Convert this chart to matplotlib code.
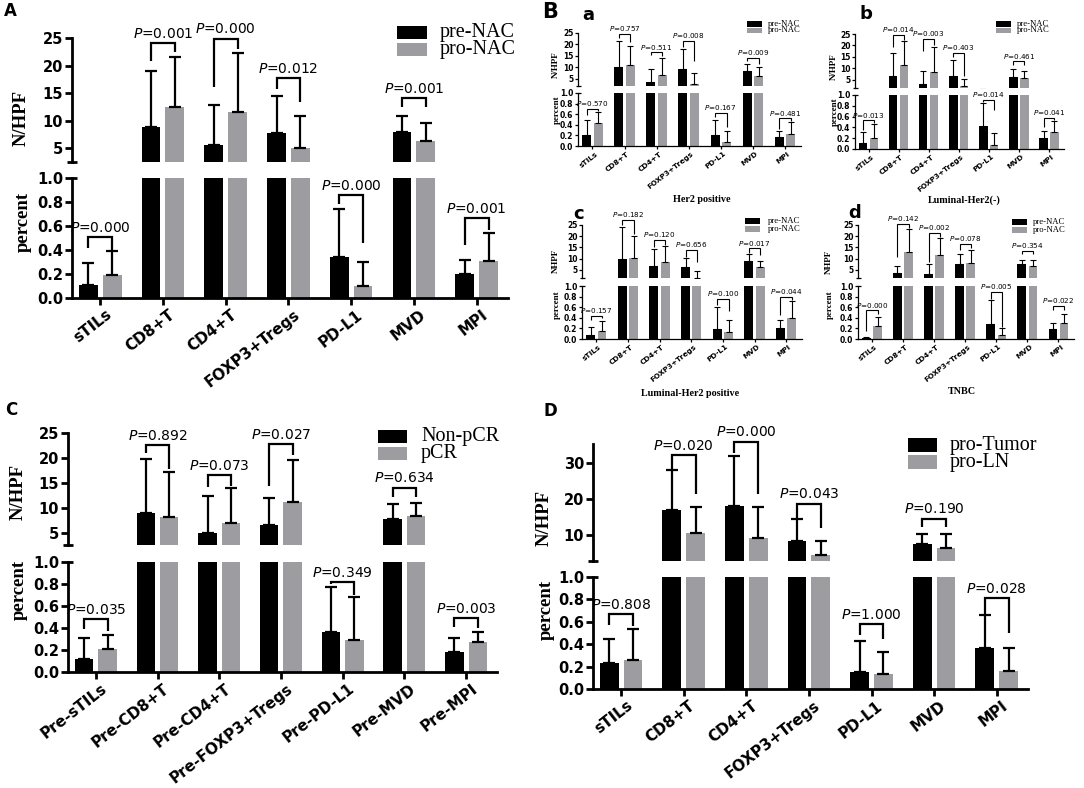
import numpy as np
import matplotlib
matplotlib.use('Agg')
import matplotlib.pyplot as plt
from matplotlib.patches import Rectangle
from matplotlib.transforms import ScaledTranslation

plt.rcParams['font.family'] = ['DejaVu Sans']
plt.rcParams['mathtext.fontset'] = 'dejavusans'

# ------------------------------------------------------------------ data
categories = ['sTILs', 'CD8+T', 'CD4+T', 'FOXP3+Tregs', 'PD-L1', 'MVD', 'MPI']
categories_C = ['Pre-sTILs', 'Pre-CD8+T', 'Pre-CD4+T', 'Pre-FOXP3+Tregs',
                'Pre-PD-L1', 'Pre-MVD', 'Pre-MPI']

# Panel A : pre-NAC vs pro-NAC
A_pre_mean = [0.11, 8.8, 5.6, 7.85, 0.34, 8.0, 0.20]
A_pre_sd = [0.18, 10.3, 7.3, 6.6, 0.40, 2.9, 0.12]
A_pro_mean = [0.19, 12.45, 11.5, 5.0, 0.10, 6.4, 0.31]
A_pro_sd = [0.20, 9.15, 10.8, 5.9, 0.20, 3.1, 0.23]
A_p = ['0.000', '0.001', '0.000', '0.012', '0.000', '0.001', '0.001']

# Panel B a-d : subtypes, pre-NAC vs pro-NAC
Ba_pre_mean = [0.20, 10.0, 3.4, 9.3, 0.20, 8.5, 0.17]
Ba_pre_sd = [0.30, 11.5, 5.9, 8.9, 0.30, 3.0, 0.11]
Ba_pro_mean = [0.43, 10.8, 6.7, 2.7, 0.08, 6.3, 0.235]
Ba_pro_sd = [0.21, 8.6, 7.5, 5.0, 0.21, 3.7, 0.215]
Ba_p = ['0.570', '0.757', '0.511', '0.008', '0.167', '0.009', '0.481']

Bb_pre_mean = [0.12, 6.8, 3.1, 6.8, 0.43, 6.3, 0.20]
Bb_pre_sd = [0.19, 10.1, 5.6, 6.7, 0.42, 3.5, 0.13]
Bb_pro_mean = [0.21, 11.3, 8.6, 2.3, 0.07, 5.7, 0.32]
Bb_pro_sd = [0.25, 10.7, 10.9, 3.3, 0.22, 3.3, 0.19]
Bb_p = ['0.013', '0.014', '0.003', '0.403', '0.014', '0.461', '0.041']

Bc_pre_mean = [0.075, 9.7, 6.8, 6.5, 0.18, 9.1, 0.21]
Bc_pre_sd = [0.145, 14.6, 7.4, 4.0, 0.43, 2.9, 0.15]
Bc_pro_mean = [0.15, 10.5, 8.4, 1.6, 0.125, 6.2, 0.40]
Bc_pro_sd = [0.19, 9.6, 7.3, 3.1, 0.225, 2.9, 0.31]
Bc_p = ['0.157', '0.182', '0.120', '0.656', '0.100', '0.017', '0.044']

Bd_pre_mean = [0.02, 3.5, 3.1, 7.6, 0.29, 7.6, 0.19]
Bd_pre_sd = [0.01, 3.3, 4.6, 4.6, 0.44, 1.9, 0.12]
Bd_pro_mean = [0.24, 12.9, 11.7, 8.2, 0.08, 6.8, 0.30]
Bd_pro_sd = [0.18, 10.2, 7.4, 5.5, 0.13, 2.8, 0.18]
Bd_p = ['0.000', '0.142', '0.002', '0.078', '0.005', '0.354', '0.022']

# Panel C : Non-pCR vs pCR
C_non_mean = [0.12, 9.0, 5.0, 6.6, 0.36, 7.8, 0.18]
C_non_sd = [0.19, 10.8, 7.4, 5.4, 0.41, 3.0, 0.13]
C_pcr_mean = [0.21, 8.3, 7.1, 11.2, 0.29, 8.4, 0.27]
C_pcr_sd = [0.13, 9.0, 6.9, 8.5, 0.39, 2.6, 0.09]
C_p = ['0.035', '0.892', '0.073', '0.027', '0.349', '0.634', '0.003']

# Panel D : pro-Tumor vs pro-LN
D_tum_mean = [0.23, 17.0, 18.0, 8.2, 0.15, 7.3, 0.37]
D_tum_sd = [0.22, 11.0, 13.9, 6.3, 0.28, 3.0, 0.29]
D_ln_mean = [0.26, 10.5, 9.1, 4.4, 0.13, 6.2, 0.16]
D_ln_sd = [0.28, 7.3, 8.7, 3.7, 0.20, 3.9, 0.21]
D_p = ['0.808', '0.020', '0.000', '0.043', '1.000', '0.190', '0.028']

# significance bracket layout (bar height, left leg end, right leg end) in data units
A_brk = [(0.505, 0.42, 0.40), (24.1, 20.9, 22.4), (24.9, 16.1, 23.0), (17.7, 15.7, 13.3),
         (0.86, 0.78, 0.46), (14.1, 12.4, 12.4), (0.665, 0.44, 0.57)]
Ba_brk = [(0.70, 0.58, 0.66), (24.7, 23.0, 21.0), (16.5, 15.4, 14.9), (21.4, 19.0, 12.8),
          (0.62, 0.54, 0.35), (14.2, 12.8, 11.5), (0.52, 0.33, 0.47)]
Bb_brk = [(0.53, 0.36, 0.48), (24.7, 19.5, 22.5), (22.9, 17.5, 20.0), (16.9, 15.0, 6.8),
          (0.91, 0.87, 0.72), (13.1, 11.6, 11.6), (0.58, 0.41, 0.53)]
Bc_brk = [(0.44, 0.36, 0.39), (27.2, 25.0, 21.0), (18.3, 15.4, 16.1), (13.9, 10.9, 8.7),
          (0.75, 0.64, 0.53), (14.6, 12.4, 11.7), (0.80, 0.45, 0.73)]
Bd_brk = [(0.54, 0.16, 0.47), (25.3, 10.9, 23.5), (21.6, 8.7, 19.5), (16.4, 13.9, 14.6),
          (0.89, 0.76, 0.23), (13.4, 12.0, 12.0), (0.62, 0.54, 0.54)]
C_brk = [(0.48, 0.39, 0.37), (22.6, 21.0, 17.8), (16.6, 14.2, 14.4), (22.8, 14.4, 20.6),
         (0.82, 0.80, 0.70), (14.1, 12.2, 12.2), (0.49, 0.41, 0.40)]
D_brk = [(0.67, 0.57, 0.56), (32.3, 28.1, 21.5), (36.1, 32.8, 21.4), (18.7, 14.5, 11.9),
         (0.58, 0.48, 0.45), (14.5, 12.2, 12.2), (0.81, 0.67, 0.50)]

# ------------------------------------------------------------------ style
W, H = 1084, 788
fig = plt.figure(figsize=(W / 100, H / 100), dpi=100)
fig.patch.set_facecolor('white')

BLACK = '#000000'
GRAY = '#9d9da1'
SERIF = 'Liberation Serif'
SANS = 'DejaVu Sans'

BIG = dict(tick=10.5, xtick=11, p=10, ylab=13.5, leg=14.5, lw_sp=2.0, lw_e=1.6, cap=4.5,
           ticklen=5, tickw=2.0, brk_lw=1.6, mark=5, bw=0.30, off=0.19, pad=1.5, poff=1.5,
           xshift=5)
SMALL = dict(tick=5.5, xtick=5.3, p=5.2, ylab=6.5, leg=6.2, lw_sp=0.9, lw_e=0.8, cap=2,
             ticklen=2.5, tickw=0.9, brk_lw=0.8, mark=2.5, bw=0.28, off=0.18, pad=0.8,
             poff=0.6, xshift=2.5)


def rect(x0, y0, x1, y1):
    return [x0 / W, 1 - y1 / H, (x1 - x0) / W, (y1 - y0) / H]


def draw_panel(xr, ytop, ybot, cats, pre_m, pre_sd, pro_m, pro_sd, pvals, brk,
               top_lim, top_ticks, st, ylabs, ylab_pos):
    x0, x1 = xr
    ax_t = fig.add_axes(rect(x0, ytop[0], x1, ytop[1]))
    ax_b = fig.add_axes(rect(x0, ybot[0], x1, ybot[1]))
    n = len(cats)
    xs = np.arange(n)
    zeros = np.zeros(n)
    for ax in (ax_t, ax_b):
        ax.set_facecolor('none')
        ax.bar(xs - st['off'], pre_m, st['bw'], color=BLACK, linewidth=0, zorder=2)
        ax.bar(xs + st['off'], pro_m, st['bw'], color=GRAY, linewidth=0, zorder=2)
        ax.errorbar(xs - st['off'], pre_m, yerr=[zeros, pre_sd], fmt='none', ecolor=BLACK,
                    elinewidth=st['lw_e'], capsize=st['cap'], capthick=st['lw_e'], zorder=3)
        ax.errorbar(xs + st['off'], pro_m, yerr=[zeros, pro_sd], fmt='none', ecolor=BLACK,
                    elinewidth=st['lw_e'], capsize=st['cap'], capthick=st['lw_e'], zorder=3)
        ax.set_xlim(-0.45, n - 0.5)
        ax.spines['top'].set_visible(False)
        ax.spines['right'].set_visible(False)
        ax.spines['left'].set_linewidth(st['lw_sp'])
        ax.spines['bottom'].set_linewidth(st['lw_sp'])
        ax.tick_params(axis='both', direction='out', length=st['ticklen'], width=st['tickw'],
                       pad=st['pad'])
    ax_t.spines['bottom'].set_visible(False)
    ax_t.tick_params(axis='x', bottom=False, labelbottom=False)
    ax_t.set_ylim(*top_lim)
    ax_t.set_yticks(top_ticks)
    ax_t.set_yticklabels([str(t) for t in top_ticks], fontweight='bold', fontsize=st['tick'],
                         family=SANS)
    bt = [0.0, 0.2, 0.4, 0.6, 0.8, 1.0]
    ax_b.set_ylim(0, 1.0)
    ax_b.set_yticks(bt)
    ax_b.set_yticklabels(['%.1f' % t for t in bt], fontweight='bold', fontsize=st['tick'],
                         family=SANS)
    ax_b.set_xticks(xs)
    ax_b.set_xticklabels(cats, rotation=38, ha='right', va='top', rotation_mode='anchor',
                         fontweight='bold', fontsize=st['xtick'], family=SANS)
    shift = ScaledTranslation(st['xshift'] / 100, 0, fig.dpi_scale_trans)
    for lab in ax_b.get_xticklabels():
        lab.set_transform(lab.get_transform() + shift)
    # axis break marks
    d = st['mark'] / (x1 - x0)
    ax_t.plot([-d, d], [0, 0], transform=ax_t.transAxes, color=BLACK, lw=st['tickw'],
              clip_on=False, solid_capstyle='butt')
    ax_b.plot([0, d], [1, 1], transform=ax_b.transAxes, color=BLACK, lw=st['tickw'],
              clip_on=False, solid_capstyle='butt')
    # significance brackets
    for i in range(n):
        yb, yl, yr = brk[i]
        in_bottom = max(pre_m[i] + pre_sd[i], pro_m[i] + pro_sd[i]) <= 1.0
        ax = ax_b if in_bottom else ax_t
        xl, xrr = i - st['off'], i + st['off']
        ax.plot([xl, xl, xrr, xrr], [yl, yb, yb, yr], color=BLACK, lw=st['brk_lw'],
                clip_on=False, solid_joinstyle='miter', solid_capstyle='butt', zorder=4)
        ax.annotate('$P$=' + pvals[i], xy=(i, yb), xytext=(0, st['poff']),
                    textcoords='offset points', ha='center', va='bottom',
                    fontsize=st['p'], family=SANS, annotation_clip=False)
    # y labels
    (tx, ty), (bx, by) = ylab_pos
    fig.text(tx / W, 1 - ty / H, ylabs[0], rotation=90, ha='center', va='center',
             family=SERIF, fontweight='bold', fontsize=st['ylab'])
    fig.text(bx / W, 1 - by / H, ylabs[1], rotation=90, ha='center', va='center',
             family=SERIF, fontweight='bold', fontsize=st['ylab'])
    return ax_t, ax_b


def legend(x, y0, pw, ph, pitch, tx, labels, size):
    for k, (lab, col) in enumerate(zip(labels, [BLACK, GRAY])):
        yy = y0 + k * pitch
        fig.add_artist(Rectangle((x / W, 1 - (yy + ph) / H), pw / W, ph / H,
                                 transform=fig.transFigure, facecolor=col, edgecolor='none'))
        fig.text(tx / W, 1 - (yy + ph / 2) / H, lab, ha='left', va='center',
                 family=SERIF, fontsize=size)


def letter(x, y, s, size):
    fig.text(x / W, 1 - y / H, s, ha='center', va='center', family=SANS,
             fontweight='bold', fontsize=size)


big_ticks = [5, 10, 15, 20, 25]

# ---------------- Panel A
draw_panel((72, 508), (38, 162), (178, 298), categories, A_pre_mean, A_pre_sd,
           A_pro_mean, A_pro_sd, A_p, A_brk, (2.5, 25), big_ticks, BIG,
           ('N/HPF', 'percent'), ((21, 118), (23, 222)))
legend(397, 26, 30, 13, 17, 440, ['pre-NAC', 'pro-NAC'], BIG['leg'])
letter(10, 11, 'A', 12)

# ---------------- Panel C
draw_panel((68, 497), (433, 545), (562, 672), categories_C, C_non_mean, C_non_sd,
           C_pcr_mean, C_pcr_sd, C_p, C_brk, (2.6, 25), big_ticks, BIG,
           ('N/HPF', 'percent'), ((18, 492), (19, 590)))
legend(378, 430, 29, 13, 17, 421, ['Non-pCR', 'pCR'], BIG['leg'])
letter(11, 410, 'C', 12)

# ---------------- Panel D
draw_panel((593, 1028), (444, 561), (577, 689), categories, D_tum_mean, D_tum_sd,
           D_ln_mean, D_ln_sd, D_p, D_brk, (2.6, 35.4), [10, 20, 30], BIG,
           ('N/HPF', 'percent'), ((544, 518), (546, 610)))
legend(908, 438, 29, 14, 17, 950, ['pro-Tumor', 'pro-LN'], BIG['leg'])
letter(550, 411, 'D', 12)

# ---------------- Panel B
small_ticks = [5, 10, 15, 20, 25]
draw_panel((578, 801), (33, 86), (93, 146), categories, Ba_pre_mean, Ba_pre_sd,
           Ba_pro_mean, Ba_pro_sd, Ba_p, Ba_brk, (1.8, 25), small_ticks, SMALL,
           ('N/HPF', 'percent'), ((556, 65), (557, 110)))
legend(747, 21, 15, 5.5, 6.5, 768, ['pre-NAC', 'pro-NAC'], SMALL['leg'])

draw_panel((855, 1064), (34, 88), (95, 149), categories, Bb_pre_mean, Bb_pre_sd,
           Bb_pro_mean, Bb_pro_sd, Bb_p, Bb_brk, (1.5, 25), small_ticks, SMALL,
           ('N/HPF', 'percent'), ((834, 67), (835, 112)))
legend(996, 21, 15, 5.5, 6.5, 1017, ['pre-NAC', 'pro-NAC'], SMALL['leg'])

draw_panel((582, 802), (225, 278), (286, 339), categories, Bc_pre_mean, Bc_pre_sd,
           Bc_pro_mean, Bc_pro_sd, Bc_p, Bc_brk, (1.4, 25), small_ticks, SMALL,
           ('NHPF', 'percent'), ((556, 261), (557, 305)))
legend(745, 218, 15, 5.5, 8, 768, ['pre-NAC', 'pro-NAC'], SMALL['leg'])

draw_panel((858, 1074), (225, 278), (286, 339), categories, Bd_pre_mean, Bd_pre_sd,
           Bd_pro_mean, Bd_pro_sd, Bd_p, Bd_brk, (1.4, 25), small_ticks, SMALL,
           ('NHPF', 'percent'), ((829, 262), (830, 305)))
legend(1012, 219, 15, 5.5, 8, 1033, ['pre-NAC', 'pro-NAC'], SMALL['leg'])

letter(550, 12, 'B', 15)
letter(588, 15, 'a', 13)
letter(866, 14, 'b', 13)
letter(579, 214, 'c', 13)
letter(855, 213, 'd', 13)

for (tx, ty, s) in [(702, 199, 'Her2 positive'), (964, 200, 'Luminal-Her2(-)'),
                    (690, 393, 'Luminal-Her2 positive'), (962, 392, 'TNBC')]:
    fig.text(tx / W, 1 - ty / H, s, ha='center', va='center', family=SERIF,
             fontweight='bold', fontsize=7.3)

fig.savefig('out.png', dpi=100, facecolor='white')
